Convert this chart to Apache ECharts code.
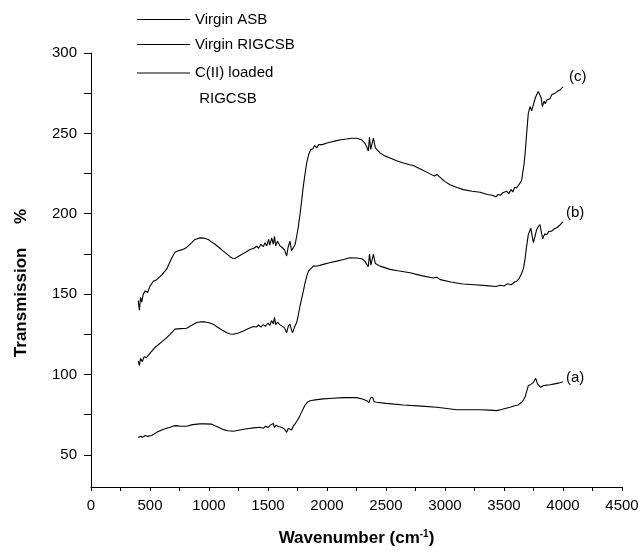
<!DOCTYPE html>
<html>
<head>
<meta charset="utf-8">
<script src="https://cdn.jsdelivr.net/npm/echarts@6/dist/echarts.min.js"></script>
<style>html,body{margin:0;padding:0;background:#fff}#c{width:643px;height:556px}</style>
</head>
<body>
<div id="c"></div>
<script>
// ---- data ----
const seriesNames = ['Virgin ASB', 'Virgin RIGCSB', 'C(II) loaded\n RIGCSB'];
const curveTags = ['(a)', '(b)', '(c)'];
const xTickValues = [0, 250, 500, 750, 1000, 1250, 1500, 1750, 2000, 2250, 2500, 2750, 3000, 3250, 3500, 3750, 4000, 4250, 4500];
const yLabelValues = [50, 100, 150, 200, 250, 300];
const yTickValues = [50, 75, 100, 125, 150, 175, 200, 225, 250, 275, 300];

const aX = [400,410,420,440,458,480,514,535,557,600,640,670,700,726,760,811,860,924,970,1023,1070,1121,1160,1206,1260,1319,1380,1432,1460,1480,1500,1520,1535,1545,1555,1570,1590,1616,1640,1658,1672,1686,1700,1715,1729,1750,1771,1790,1814,1835,1856,1900,1969,2050,2138,2200,2252,2300,2337,2355,2370,2387,2400,2421,2500,2647,2800,2930,3000,3099,3200,3297,3380,3438,3480,3510,3551,3590,3620,3636,3655,3678,3692,3706,3730,3749,3769,3785,3800,3811,3830,3862,3890,3918,3960,4000];
const aY = [61,59.8,61.5,61,62,61.5,62,63,64,65.5,66.5,67.2,68,68.2,67.8,67.8,68.8,69.3,69.3,69.1,67.5,65.7,65,64.7,65.5,66.2,66.8,67.2,66.5,67.8,67,68.5,67.3,69.5,67,68.5,67.5,67.2,66,64,66.5,66.2,65.5,68,69.3,71.5,74.4,77.5,81,82.8,83.7,84.2,84.8,85.2,85.6,85.6,85.6,84.8,83.7,82.5,85.5,85.8,83,82.7,82,81,80.3,79.6,79,78.1,78.1,78.1,77.8,77.5,78.2,78.8,79.6,80.5,81,81.7,83,85.8,89.5,93,94,95.1,97.6,94,93,92,93,93.4,93.6,94,94.6,95.5];

const bX = [400,410,420,435,450,470,486,510,542,570,599,635,670,712,760,811,850,896,930,966,1000,1036,1070,1107,1150,1180,1206,1250,1291,1330,1376,1400,1420,1440,1460,1480,1500,1515,1530,1545,1555,1565,1580,1600,1616,1640,1658,1672,1686,1700,1709,1725,1743,1757,1771,1794,1814,1830,1842,1860,1884,1920,1969,2020,2082,2140,2195,2250,2294,2320,2337,2350,2360,2372,2393,2410,2449,2534,2600,2704,2800,2900,2930,2960,3050,3150,3250,3350,3432,3470,3500,3530,3560,3590,3608,3630,3650,3665,3678,3692,3706,3727,3749,3763,3777,3791,3805,3818,3828,3845,3862,3880,3904,3925,3946,3975,4000];
const bY = [108.5,105.5,110,108,111,110.5,111.6,114,116.8,118.5,120.3,122.5,125,128.2,128.5,128.8,130.5,132.3,132.8,132.7,132.2,131.3,129.5,127.8,126,125.2,125,125.8,127.1,128.5,129.8,129.5,130.8,129.5,131,130,132,130.5,133.5,131.5,135.5,131,132.5,131,130.2,129,126,130,131.3,127.5,126,129.5,132.3,137,142.6,150,157,161.5,164.3,165.5,167.4,167.5,168.5,169.5,170.5,171.5,172.6,172.5,172,170.5,168.5,167,175,168,174.7,169,167.4,165.4,164.5,163.3,161.5,160,160.5,159,157.5,156.3,155.8,155.3,154.7,155.5,155,156.5,155.8,157.5,158,160,163,166,171.6,180,187,191,182,186,190.2,192,193.3,188,184.4,187.5,187,189,189.2,190.5,191.3,193,195];

const cX = [400,410,420,430,443,460,480,500,528,557,600,641,684,712,740,768,800,825,860,881,924,960,994,1020,1051,1085,1121,1150,1178,1200,1220,1250,1277,1310,1348,1380,1404,1420,1440,1460,1475,1490,1505,1515,1531,1545,1555,1565,1580,1602,1620,1640,1658,1670,1686,1700,1715,1730,1743,1757,1771,1785,1799,1814,1828,1845,1862,1880,1895,1913,1930,1960,2000,2026,2080,2120,2167,2210,2252,2294,2320,2337,2350,2360,2370,2393,2410,2449,2490,2534,2590,2647,2700,2731,2800,2873,2910,2930,2943,3000,3043,3100,3156,3230,3297,3360,3400,3432,3450,3470,3490,3505,3523,3540,3560,3575,3590,3608,3625,3640,3650,3660,3670,3678,3692,3706,3721,3735,3750,3765,3777,3791,3805,3815,3825,3840,3850,3862,3875,3890,3904,3918,3932,3950,3975,4000];
const cY = [146,140,148,145,150,152,151,155,158,159,162,165.5,172.5,176,177,177.5,178.5,180,182.5,184,185,184.8,184,182.5,181,179,176.7,175,173.3,172.3,172.2,173.5,174.7,176,177.8,178.5,179.8,178.5,181,179.5,182,180,184,180.5,185,181,186,180,183,180,179,177.5,173.7,179,183,177,176,181,186,192,199.5,208,217,225,231.6,237,239.8,240.5,242.5,241,243,243,244,244.5,245.5,246,246.5,247,247,246,244,241.5,239,247.5,240,247,241,237.8,236,234.7,233,231.6,230.5,230,227.5,224.8,223.5,224.5,223.3,220,218,216.3,215,214,213.4,212,211.5,210.5,212,211.5,213,212,214,212.5,215,213.5,216.5,216,218,219.5,221,226,231,236.7,250,262.6,266.7,264,268,272,274,276,276.6,272,266.7,270,268.5,270.8,272,271.5,274,273,275,276,277,279];

// ---- build ----
const FONT = 'Liberation Sans, Arial, sans-serif';
function pairs(xs, ys) { return xs.map((x, i) => [x, ys[i]]); }
const allX = [aX, bX, cX];
const allY = [aY, bY, cY];
const tagOffsets = [[1, -4], [1, -9], [4, -10]];

const series = seriesNames.map((name, i) => ({
  name: name,
  type: 'line',
  data: pairs(allX[i], allY[i]),
  symbol: 'none',
  showSymbol: false,
  lineStyle: { color: '#000', width: 1.1 },
  itemStyle: { color: '#000' },
  endLabel: {
    show: true,
    formatter: curveTags[i],
    color: '#000',
    fontSize: 15,
    fontFamily: FONT,
    distance: 2,
    offset: tagOffsets[i]
  }
}));

const legendText = { fontSize: 15, color: '#000', fontFamily: FONT };

const chart = echarts.init(document.getElementById('c'), null, { renderer: 'canvas' });
chart.setOption({
  animation: false,
  backgroundColor: '#fff',
  textStyle: { fontFamily: FONT },
  grid: { left: 91, right: 21, top: 53, bottom: 69, containLabel: false },
  legend: [
    {
      data: [seriesNames[0], seriesNames[1]],
      orient: 'vertical',
      left: 137, top: 7,
      padding: 0,
      itemGap: 0,
      icon: 'rect',
      itemWidth: 53, itemHeight: 1,
      textStyle: Object.assign({ lineHeight: 25 }, legendText)
    },
    {
      data: [seriesNames[2]],
      orient: 'vertical',
      left: 137, top: 34,
      padding: 0,
      icon: 'rect',
      itemWidth: 53, itemHeight: 1,
      formatter: name => '\n' + name,
      textStyle: Object.assign({ lineHeight: 26 }, legendText)
    }
  ],
  xAxis: {
    type: 'value',
    min: 0, max: 4500, interval: 500,
    name: 'Wavenumber (cm{sup|-1}{t|)}',
    nameLocation: 'middle',
    nameGap: 42,
    nameTextStyle: {
      fontSize: 17, fontWeight: 'bold', color: '#000', fontFamily: FONT,
      rich: {
        sup: { fontSize: 10, fontWeight: 'bold', color: '#000', fontFamily: FONT, verticalAlign: 'top', padding: [0, 0, 8, 0] },
        t: { fontSize: 17, fontWeight: 'bold', color: '#000', fontFamily: FONT }
      }
    },
    axisLine: { show: true, onZero: false, lineStyle: { color: '#000', width: 1 } },
    axisTick: { show: true, inside: false, length: 4, customValues: xTickValues, lineStyle: { color: '#000' } },
    axisLabel: { color: '#000', fontSize: 15, fontFamily: FONT, margin: 11, formatter: v => String(v) },
    splitLine: { show: false }
  },
  yAxis: {
    type: 'value',
    min: 30, max: 300,
    name: 'Transmission     %',
    nameLocation: 'middle',
    nameGap: 61,
    nameTextStyle: { fontSize: 17, fontWeight: 'bold', color: '#000', fontFamily: FONT, padding: [0, 26, 0, 0] },
    axisLine: { show: true, onZero: false, lineStyle: { color: '#000', width: 1 } },
    axisTick: { show: true, inside: false, length: 7, customValues: yTickValues, lineStyle: { color: '#000' } },
    axisLabel: { color: '#000', fontSize: 15, fontFamily: FONT, margin: 14, customValues: yLabelValues, formatter: v => String(v) },
    splitLine: { show: false }
  },
  series: series
});
</script>
</body>
</html>
